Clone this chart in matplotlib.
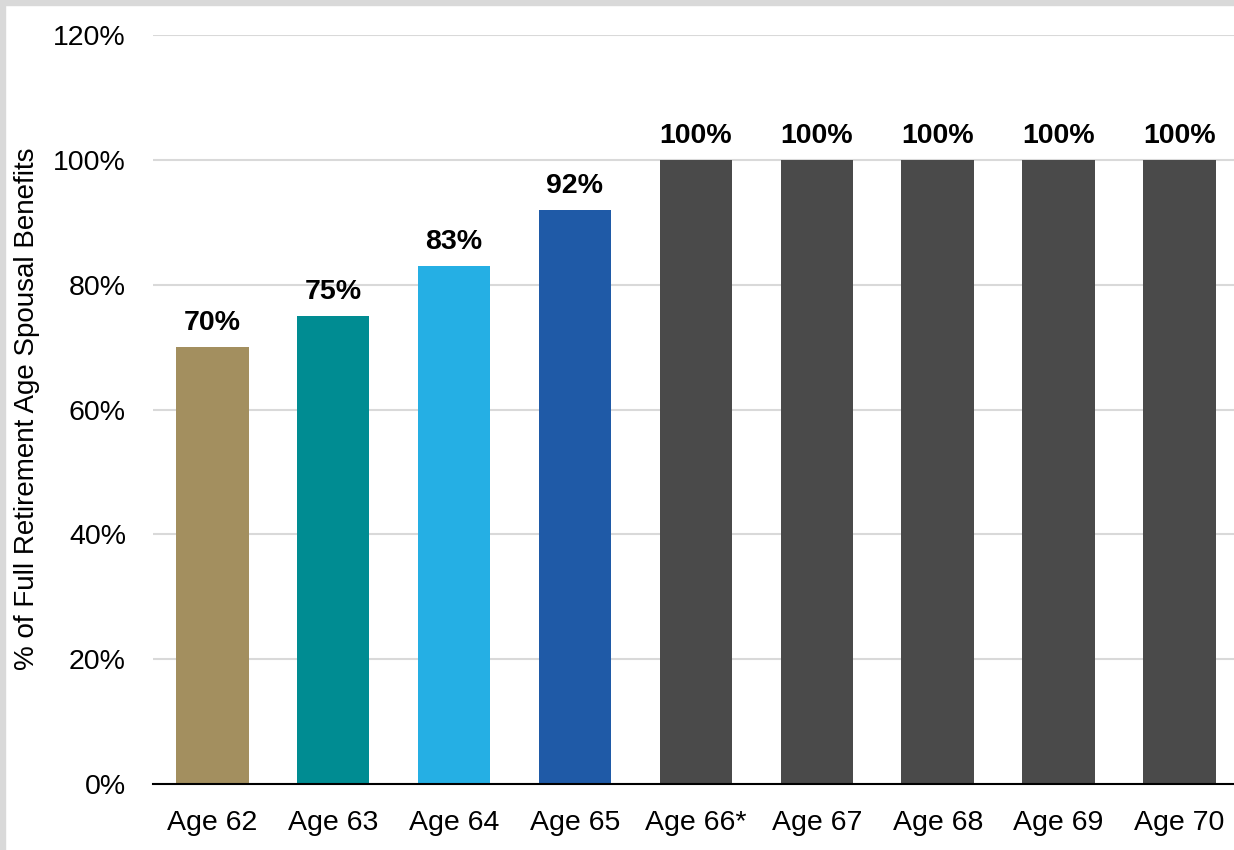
import matplotlib
matplotlib.use("Agg")
import matplotlib.pyplot as plt
from matplotlib.patches import Rectangle

plt.rcParams['font.family'] = ['Liberation Sans', 'DejaVu Sans']

ages = ["Age 62", "Age 63", "Age 64", "Age 65", "Age 66*",
        "Age 67", "Age 68", "Age 69", "Age 70"]
benefit_pct = [70, 75, 83, 92, 100, 100, 100, 100, 100]
bar_colors = ["#A38F5F", "#008C92", "#25AFE4", "#1F5AA7", "#4A4A4A",
              "#4A4A4A", "#4A4A4A", "#4A4A4A", "#4A4A4A"]
yticks = [0, 20, 40, 60, 80, 100, 120]

fig = plt.figure(figsize=(12.34, 8.5), dpi=100)
ax = fig.add_axes([153 / 1234, 66 / 850, 1087 / 1234, 749 / 850])

x = range(len(ages))
bars = ax.bar(x, benefit_pct, width=0.6, color=bar_colors, zorder=3)

for b, v in zip(bars, benefit_pct):
    ax.annotate(f"{v}%", (b.get_x() + b.get_width() / 2, v),
                xytext=(0, 12), textcoords="offset points",
                ha="center", va="baseline", fontsize=20.5, fontweight="bold")

ax.set_xlim(-0.49, 8.5)
ax.set_ylim(0, 120)
ax.set_yticks(yticks)
ax.set_yticklabels([f"{t}%" for t in yticks])
ax.set_xticks(list(x))
ax.set_xticklabels(ages)
ax.tick_params(axis="both", length=0, labelsize=20.5)
ax.tick_params(axis="y", pad=19.5)
ax.tick_params(axis="x", pad=19)
ax.grid(axis="y", color="#D9D9D9", linewidth=1.5, zorder=0)
for s in ["top", "right", "left"]:
    ax.spines[s].set_visible(False)
ax.spines["bottom"].set_linewidth(1.5)
ax.spines["bottom"].set_zorder(4)

fig.text(27 / 1234, 1 - 409 / 850, "% of Full Retirement Age Spousal Benefits",
         rotation=90, ha="center", va="center", fontsize=20)

# light gray frame along the top and left edges
fig.patches.append(Rectangle((0, 1 - 5 / 850), 1, 5 / 850, transform=fig.transFigure,
                             color="#D9D9D9", zorder=0))
fig.patches.append(Rectangle((0, 0), 5 / 1234, 1, transform=fig.transFigure,
                             color="#D9D9D9", zorder=0))

fig.savefig("out.png", dpi=100)
